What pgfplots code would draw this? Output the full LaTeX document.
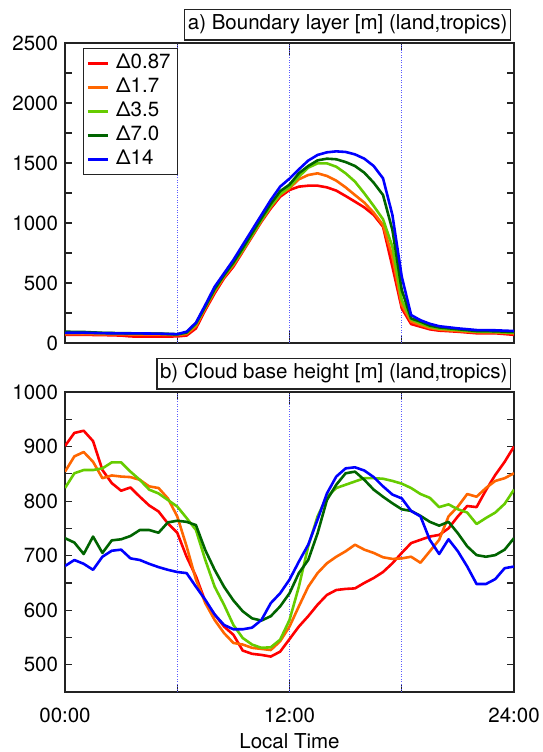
\documentclass[border=0pt]{standalone}
\usepackage{fontspec}
\setmainfont{TeX Gyre Heros}
\usepackage{pgfplots}
\usepackage{pgfplotstable}
\pgfplotsset{compat=1.18}
\definecolor{cRed}{RGB}{255,0,0}
\definecolor{cOra}{RGB}{255,102,0}
\definecolor{cLgr}{RGB}{102,204,0}
\definecolor{cDgr}{RGB}{0,100,0}
\definecolor{cBlu}{RGB}{0,0,255}
\definecolor{cGrid}{RGB}{90,90,255}
\definecolor{cFrame}{RGB}{35,35,35}

% a) Boundary layer height [m]
\pgfplotstableread{
h    r    o    lg   dg   b
0    68   75   88   94   85
1    68   75   88   92   86
2    66   72   82   85   82
3    62   72   80   82   80
3.5  55   71   80   81   80
4    53   70   80   80   80
5    53   70   78   78   78
6    55   66   72   72   74
6.5  62   75   85   88   94
7    122  140  155  165  169
7.5  275  290  300  305  317
8    414  430  440  450  469
8.5  539  550  560  565  580
9    636  650  660  670  692
9.5  761  770  775  790  817
10   886  895  900  915  942
10.5 1011 1020 1025 1040 1067
11   1122 1135 1140 1160 1192
11.5 1219 1235 1240 1265 1303
12   1275 1290 1300 1320 1370
12.5 1303 1364 1386 1414 1447
13   1311 1400 1461 1475 1520
13.5 1311 1414 1497 1522 1567
14   1297 1392 1497 1536 1589
14.5 1270 1353 1469 1531 1597
15   1225 1297 1414 1508 1592
15.5 1178 1233 1345 1475 1572
16   1130 1170 1247 1419 1536
16.5 1067 1086 1142 1336 1475
17   969  983  1031 1233 1372
17.5 636  719  803  942  1067
18   289  317  358  442  553
18.5 158  178  197  205  233
19   136  150  164  178  190
19.5 114  125  135  145  160
20   103  112  120  130  140
21   94   100  108  115  122
22   81   90   95   100  108
23   81   88   92   98   106
24   68   80   85   92   100
}\tblA

% b) Cloud base height [m]
\pgfplotstableread{
h    r    o    lg   dg   b
0    901  854  824  732  681
0.5  925  882  851  724  692
1    929  890  857  703  685
1.5  910  872  857  735  674
2    857  842  860  705  698
2.5  833  847  871  728  709
3    819  845  871  730  711
3.5  825  844  854  736  695
4    808  839  839  747  692
4.5  792  827  821  747  685
5    781  824  814  742  679
5.5  759  805  802  761  674
6    742  772  790  764  670
6.5  698  717  769  762  668
7    662  656  747  756  643
7.5  616  613  692  710  619
8    592  582  643  674  592
8.5  570  558  610  643  573
9    555  540  573  618  565
9.5  526  537  549  598  565
10   520  531  537  585  568
10.5 518  529  531  581  582
11   515  527  532  589  613
11.5 524  543  546  607  631
12   547  570  582  631  656
12.5 570  607  643  668  689
13   589  643  717  692  720
13.5 610  668  772  741  766
14   628  686  808  802  814
14.5 637  698  824  830  845
15   639  708  830  851  860
15.5 640  720  836  854  862
16   650  711  842  839  856
16.5 659  705  842  821  844
17   670  697  841  808  827
17.5 686  694  837  796  812
18   705  695  832  785  805
18.5 723  698  824  782  782
19   729  687  813  773  772
19.5 735  708  806  762  729
20   738  729  789  755  703
20.5 750  772  794  762  730
21   772  790  785  741  708
21.5 791  813  779  717  680
22   789  808  758  701  648
22.5 820  824  769  698  648
23   848  837  779  701  657
23.5 872  842  795  711  677
24   900  851  821  732  680
}\tblB

\pgfplotsset{
  panel/.style={
    width=449bp, height=300bp, scale only axis,
    xmin=0, xmax=24,
    xtick={0,6,18,24},
    extra x ticks={12},
    extra x tick style={major tick length=13bp},
    tick style={cFrame, line width=1.2pt},
    major tick length=7bp, minor tick length=7bp,
    minor y tick num=1,
    axis line style={cFrame, line width=1.3pt},
    tick align=inside,
    /pgf/number format/1000 sep={},
    /pgf/number format/assume math mode=true,
    scaled y ticks=false,
    every axis plot/.append style={line width=2.6pt, line join=round},
    clip mode=individual,
    legend cell align=left,
  },
  gridln/.style={forget plot, draw=cGrid, dash pattern=on 1bp off 1.5bp, line width=0.8bp},
}
\tikzset{
  ttl/.style={draw=cFrame, line width=1.2pt, anchor=south east, inner xsep=3bp, inner ysep=5bp, text height=15.5bp, text depth=5bp, fill=white},
}

\begin{document}
\fontsize{20.5bp}{24bp}\selectfont
\begin{tikzpicture}
\useasboundingbox (0bp,0bp) rectangle (543bp,-752bp);

\begin{axis}[panel, name=top,
  at={(65bp,-343bp)}, anchor=south west,
  ymin=0, ymax=2500, ytick={0,500,...,2500},
  xticklabels={\phantom{0},\phantom{0},\phantom{0},\phantom{0}},
  extra x tick labels={\phantom{0}},
  legend image code/.code={\draw[#1, line width=2.6pt] (0bp,0bp) -- (20bp,0bp);},
  legend style={at={(0.04,0.983)}, anchor=north west, draw=cFrame, line width=1.2pt,
    inner xsep=3bp, inner ysep=3bp, row sep=0bp,
    nodes={inner xsep=4bp, inner ysep=1.5bp, text height=15bp, text depth=6bp}},
]
\addplot[gridln] coordinates {(6,0) (6,2500)};
\addplot[gridln] coordinates {(12,0) (12,2500)};
\addplot[gridln] coordinates {(18,0) (18,2500)};
\addplot[cRed] table[x=h, y=r] {\tblA};
\addlegendentry{\hspace{3bp}Δ0.87\hspace{3bp}}
\addplot[cOra] table[x=h, y=o] {\tblA};
\addlegendentry{\hspace{3bp}Δ1.7}
\addplot[cLgr] table[x=h, y=lg] {\tblA};
\addlegendentry{\hspace{3bp}Δ3.5}
\addplot[cDgr] table[x=h, y=dg] {\tblA};
\addlegendentry{\hspace{3bp}Δ7.0}
\addplot[cBlu] table[x=h, y=b] {\tblA};
\addlegendentry{\hspace{3bp}Δ14}
\end{axis}
\node[ttl] at ([xshift=-3bp, yshift=2.5bp]top.north east) {a) Boundary layer [m] (land,tropics)};

\begin{axis}[panel, name=bot,
  at={(65bp,-692bp)}, anchor=south west,
  ymin=450, ymax=1000, ytick={500,600,...,1000},
  xticklabels={00:00,,,24:00},
  extra x tick labels={12:00},
  xticklabel style={anchor=base, yshift=-30bp},
]
\addplot[gridln] coordinates {(6,450) (6,1000)};
\addplot[gridln] coordinates {(12,450) (12,1000)};
\addplot[gridln] coordinates {(18,450) (18,1000)};
\addplot[cRed] table[x=h, y=r] {\tblB};
\addplot[cOra] table[x=h, y=o] {\tblB};
\addplot[cLgr] table[x=h, y=lg] {\tblB};
\addplot[cDgr] table[x=h, y=dg] {\tblB};
\addplot[cBlu] table[x=h, y=b] {\tblB};
\end{axis}
\node[ttl] at ([xshift=-3bp, yshift=2.5bp]bot.north east) {b) Cloud base height [m] (land,tropics)};

\node[anchor=base] at (289.5bp,-748bp) {Local Time};
\end{tikzpicture}
\end{document}
